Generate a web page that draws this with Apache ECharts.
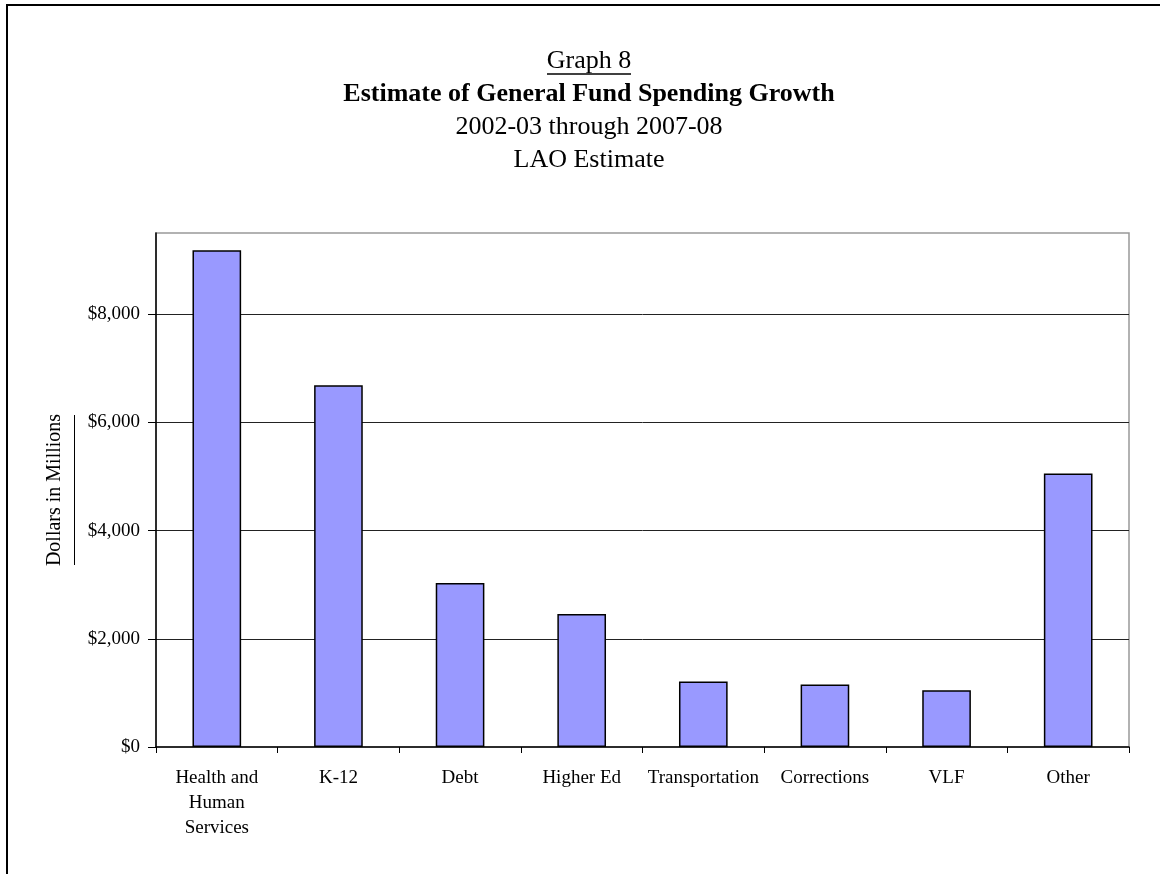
<!DOCTYPE html>
<html>
<head>
<meta charset="utf-8">
<script src="https://cdn.jsdelivr.net/npm/echarts@6/dist/echarts.min.js"></script>
<style>
  html, body { margin: 0; padding: 0; background: #fff; }
  #chart { width: 1160px; height: 874px; }
</style>
</head>
<body>
<div id="chart"></div>
<script>
const categories = [
  "Health and\nHuman\nServices",
  "K-12",
  "Debt",
  "Higher Ed",
  "Transportation",
  "Corrections",
  "VLF",
  "Other"
];
const growth = [9180, 6685, 3030, 2460, 1210, 1155, 1050, 5055];
const yTicks = [0, 2000, 4000, 6000, 8000];

const FONT = "Liberation Serif";
const chart = echarts.init(document.getElementById("chart"));

chart.setOption({
  backgroundColor: "#fff",
  animation: false,
  title: {
    text:
      "{n|Graph 8}\n{b|Estimate of General Fund Spending Growth}\n" +
      "{n|2002-03 through 2007-08}\n{n|LAO Estimate}",
    left: 589,
    top: 45,
    textAlign: "center",
    padding: 0,
    textStyle: {
      fontWeight: "normal",
      rich: {
        n: { fontFamily: FONT, fontSize: 26, fontWeight: "normal", color: "#000", lineHeight: 33 },
        b: { fontFamily: FONT, fontSize: 26, fontWeight: "bold", color: "#000", lineHeight: 33 }
      }
    }
  },
  graphic: [
    // outer frame of the chart area
    {
      type: "rect",
      shape: { x: 7, y: 5, width: 1300, height: 1000 },
      style: { fill: null, stroke: "#000", lineWidth: 2 },
      silent: true
    },
    // underline under "Graph 8"
    {
      type: "line",
      shape: { x1: 547, y1: 74, x2: 631, y2: 74 },
      style: { stroke: "#000", lineWidth: 1.5 },
      silent: true
    },
    // underline under y axis title
    {
      type: "line",
      shape: { x1: 74.5, y1: 415, x2: 74.5, y2: 565 },
      style: { stroke: "#000", lineWidth: 1 },
      silent: true
    }
  ],
  grid: {
    left: 156,
    top: 233,
    width: 973,
    height: 514,
    show: true,
    borderColor: "#999",
    borderWidth: 1.5,
    backgroundColor: "#fff"
  },
  xAxis: {
    type: "category",
    data: categories,
    axisLine: { lineStyle: { color: "#000", width: 1.5 } },
    axisTick: { show: true, length: 6, lineStyle: { color: "#000" } },
    axisLabel: {
      fontFamily: FONT,
      fontSize: 19,
      color: "#000",
      margin: 19,
      lineHeight: 25,
      interval: 0
    }
  },
  yAxis: {
    type: "value",
    min: 0,
    max: 9500,
    interval: 2000,
    name: "Dollars in Millions",
    nameLocation: "middle",
    nameGap: 91,
    nameRotate: 90,
    nameTextStyle: { fontFamily: FONT, fontSize: 20, color: "#000" },
    axisLine: { show: true, lineStyle: { color: "#000", width: 1.5 } },
    axisTick: { show: true, length: 8, lineStyle: { color: "#000" } },
    axisLabel: {
      fontFamily: FONT,
      fontSize: 19,
      color: "#000",
      margin: 16,
      showMaxLabel: false,
      formatter: function (v) {
        if (yTicks.indexOf(v) < 0) return "";
        return "$" + v.toLocaleString("en-US");
      }
    },
    splitLine: {
      show: true,
      showMinLine: false,
      showMaxLine: false,
      lineStyle: { color: "#222", width: 1 }
    }
  },
  series: [
    {
      type: "bar",
      data: growth,
      barWidth: "40%",
      itemStyle: {
        color: "#9999FF",
        borderColor: "#000",
        borderWidth: 1.5
      }
    }
  ]
});
</script>
</body>
</html>
